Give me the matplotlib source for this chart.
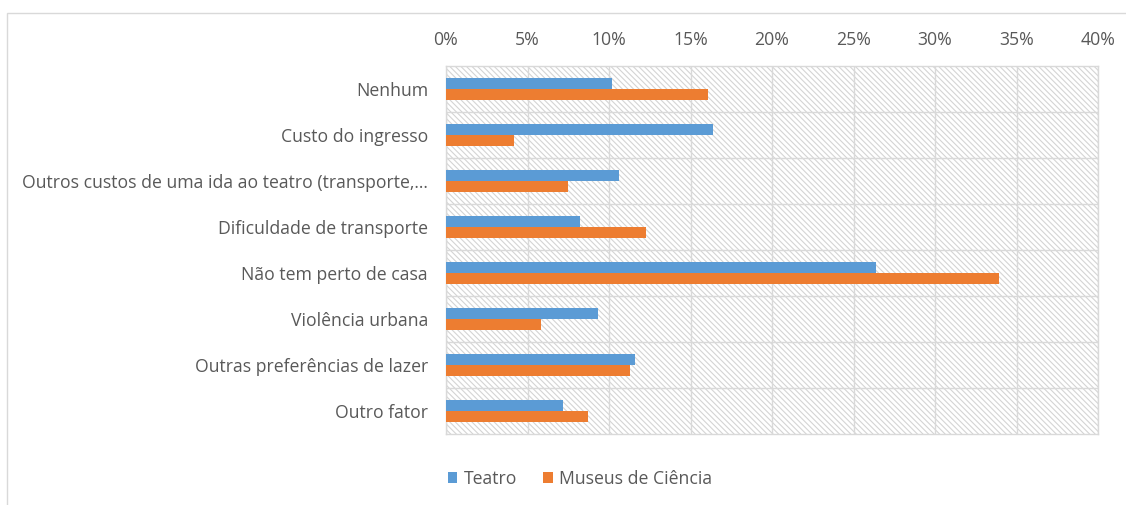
import matplotlib
matplotlib.use("Agg")
import matplotlib.pyplot as plt
import numpy as np
from matplotlib.patches import Rectangle
from matplotlib.ticker import FuncFormatter, MultipleLocator

categories = [
    "Nenhum",
    "Custo do ingresso",
    "Outros custos de uma ida ao teatro (transporte,...",
    "Dificuldade de transporte",
    "Não tem perto de casa",
    "Violência urbana",
    "Outras preferências de lazer",
    "Outro fator",
]
teatro = [10.2, 16.4, 10.6, 8.2, 26.4, 9.3, 11.6, 7.2]
museus = [16.1, 4.2, 7.5, 12.3, 33.9, 5.8, 11.3, 8.7]
series_names = ["Teatro", "Museus de Ciência"]

BLUE = "#5B9BD5"
ORANGE = "#ED7D31"
GRID = "#d9d9d9"
TEXT = "#595959"
FS = 12.7

plt.rcParams["font.family"] = ["Open Sans", "DejaVu Sans"]
plt.rcParams["hatch.linewidth"] = 0.8

fig = plt.figure(figsize=(11.26, 5.05), dpi=100)
W, H = 1126, 505

# outer chart frame
fig.patches.append(Rectangle((7 / W, -0.1), 1.2, 1 - 13 / H + 0.1,
                             transform=fig.transFigure, fill=False,
                             edgecolor=GRID, linewidth=1.0))

ax = fig.add_axes([446 / W, 1 - 434 / H, (1098 - 446) / W, (434 - 66) / H])

# hatched plot background
ax.add_patch(Rectangle((0, 0), 1, 1, transform=ax.transAxes, facecolor="white",
                       edgecolor="#d4d4d4", hatch="\\" * 6, linewidth=0, zorder=0))

y = np.arange(len(categories))
h = 0.24
ax.barh(y - h / 2, teatro, height=h, color=BLUE, label=series_names[0], zorder=3)
ax.barh(y + h / 2, museus, height=h, color=ORANGE, label=series_names[1], zorder=3)

ax.set_xlim(0, 40)
ax.set_ylim(len(categories) - 0.5, -0.5)
ax.xaxis.set_major_locator(MultipleLocator(5))
ax.xaxis.set_major_formatter(FuncFormatter(lambda v, p: f"{v:.0f}%"))
ax.xaxis.tick_top()
ax.set_yticks(y)
ax.set_yticklabels(categories)
ax.tick_params(axis="x", length=0, pad=12, labelsize=FS, labelcolor=TEXT)
ax.tick_params(axis="y", length=0, pad=13, labelsize=FS, labelcolor=TEXT)

ax.grid(axis="x", color=GRID, linewidth=1.0, zorder=1)
for b in np.arange(0.5, len(categories) - 0.5, 1):
    ax.axhline(b, color=GRID, linewidth=1.0, zorder=1)
for s in ax.spines.values():
    s.set_color(GRID)
    s.set_linewidth(1.0)
ax.set_axisbelow(True)

fig.legend(loc="center", bbox_to_anchor=(580 / W, 1 - 479 / H), ncol=2,
           frameon=False, fontsize=FS, labelcolor=TEXT, handlelength=0.55,
           handleheight=0.55, handletextpad=0.35, columnspacing=1.5)

fig.savefig("out.png", dpi=100, facecolor="white")
